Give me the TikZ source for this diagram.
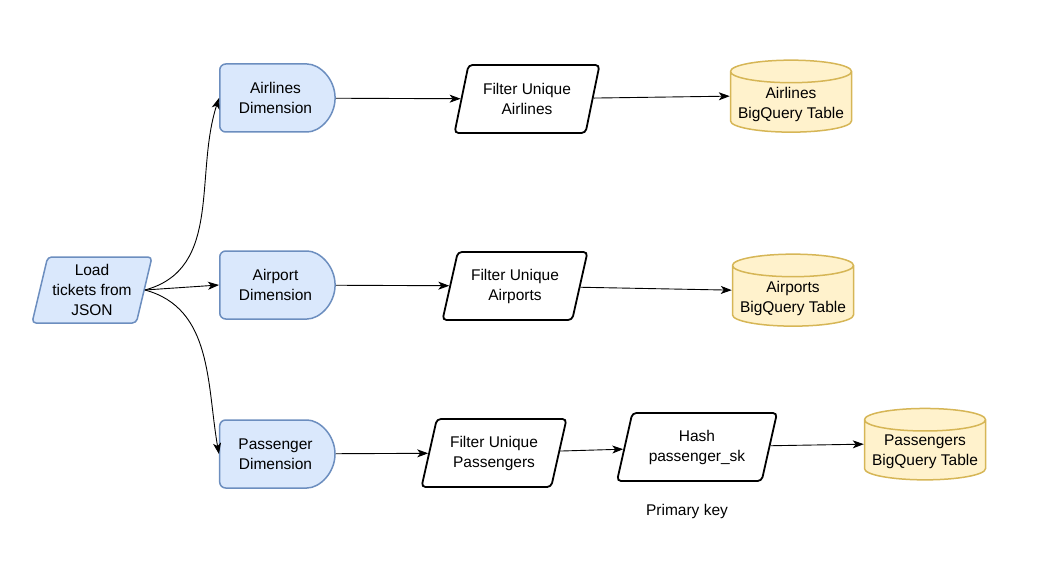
\documentclass[tikz,border=0pt]{standalone}
\usepackage{fontspec}
\setmainfont{Liberation Sans}
\usetikzlibrary{shapes.geometric, shapes.misc, arrows.meta}

\definecolor{dimfill}{HTML}{DAE8FC}
\definecolor{dimline}{HTML}{6C8EBF}
\definecolor{tabfill}{HTML}{FFF2CC}
\definecolor{tabline}{HTML}{D6B656}

\begin{document}
\begin{tikzpicture}[x=1pt, y=1pt,
  every node/.style={font=\fontsize{15.5}{20}\selectfont, align=center},
  loadbox/.style={trapezium, trapezium left angle=73, trapezium right angle=107,
    trapezium stretches body, draw=dimline, fill=dimfill, line width=1.5pt,
    rounded corners=4pt, minimum width=120pt, minimum height=66pt, inner sep=0pt},
  dimbox/.style={rounded rectangle, rounded rectangle left arc=none,
    draw=dimline, fill=dimfill, line width=1.5pt, rounded corners=6pt,
    minimum width=122pt, minimum height=68pt},
  procbox/.style={trapezium, trapezium left angle=66, trapezium right angle=114,
    trapezium stretches body, draw, line width=1.8pt, rounded corners=4pt,
    minimum width=145pt, minimum height=68pt, inner sep=0pt},
  tablebox/.style={cylinder, shape border rotate=90, aspect=0.2,
    draw=tabline, fill=tabfill, line width=1.5pt,
    minimum width=121pt, minimum height=67pt},
  flow/.style={-{Stealth[length=11pt, width=8pt, inset=3pt]}, line width=0.9pt}
]
  % Fix the page to the size of the reference
  \useasboundingbox (0,0) rectangle (1056,-577);

  % Source
  \node[loadbox] (load) at (92,-290) {Load\\tickets from\\JSON};

  % Dimensions
  \node[dimbox] (airlinesdim) at (275.5,-98) {Airlines\\Dimension};
  \node[dimbox] (airportdim) at (275.5,-285) {Airport\\Dimension};
  \node[dimbox] (passengerdim) at (275.5,-454) {Passenger\\Dimension};

  % Processing steps
  \node[procbox] (uniqairlines) at (527,-99) {Filter Unique\\Airlines};
  \node[procbox] (uniqairports) at (515,-286) {Filter Unique\\Airports};
  \node[procbox] (uniqpassengers) at (494,-453) {Filter Unique\\Passengers};
  \node[procbox, minimum width=160pt] (hashsk) at (697,-447) {Hash\\passenger\_sk};
  \node (pkey) at (687,-511) {Primary key};

  % Target tables
  \node[tablebox] (airlinestab) at (791,-104) {Airlines\\BigQuery Table};
  \node[tablebox] (airportstab) at (793,-298) {Airports\\BigQuery Table};
  \node[tablebox] (passengerstab) at (925,-452) {Passengers\\BigQuery Table};

  % Connectors
  \draw[flow] (load.east) to[out=15, in=252] (airlinesdim.west);
  \draw[flow] (load.east) -- (airportdim.west);
  \draw[flow] (load.east) to[out=-15, in=100] (passengerdim.west);
  \draw[flow] (airlinesdim) -- (uniqairlines);
  \draw[flow] (uniqairlines) -- (airlinestab.west |- airlinestab.shape center);
  \draw[flow] (airportdim) -- (uniqairports);
  \draw[flow] (uniqairports) -- (airportstab.west |- airportstab.shape center);
  \draw[flow] (passengerdim) -- (uniqpassengers);
  \draw[flow] (uniqpassengers) -- (hashsk);
  \draw[flow] (hashsk) -- (passengerstab.west |- passengerstab.shape center);
\end{tikzpicture}
\end{document}
